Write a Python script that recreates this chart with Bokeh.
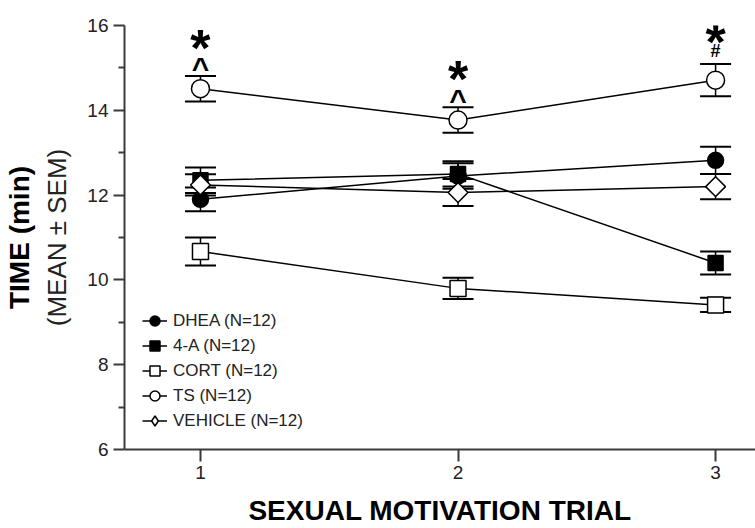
import numpy as np
from bokeh.plotting import figure
from bokeh.models import (ColumnDataSource, Whisker, TeeHead, Legend, LegendItem,
                          FixedTicker, Range1d, LinearAxis)
from bokeh.core.properties import value
from bokeh.embed import file_html
from bokeh.resources import INLINE

# ---------------- data ----------------
trials = [1, 2, 3]
dhea_mean = [11.90, 12.45, 12.82]
dhea_sem = [0.28, 0.30, 0.32]
a4_mean = [12.35, 12.50, 10.40]
a4_sem = [0.30, 0.30, 0.27]
cort_mean = [10.67, 9.80, 9.41]
cort_sem = [0.33, 0.25, 0.17]
ts_mean = [14.51, 13.77, 14.71]
ts_sem = [0.30, 0.30, 0.38]
veh_mean = [12.24, 12.06, 12.20]
veh_sem = [0.25, 0.32, 0.30]

series_labels = ["DHEA (N=12)", "4-A (N=12)", "CORT (N=12)", "TS (N=12)", "VEHICLE (N=12)"]
y_ticks = [6, 8, 10, 12, 14, 16]
y_minor_ticks = [7, 9, 11, 13, 15]
x_ticks = [1, 2, 3]
star_marks = ["*", "*", "*"]
sig_marks = ["^", "^", "#"]

FONT = "Liberation Sans"
AX = "#3a3a3a"

p = figure(width=755, height=528, output_backend="svg", toolbar_location=None,
           x_range=Range1d(0.705, 3.155), y_range=Range1d(6, 16),
           min_border_left=124, min_border_right=0, min_border_top=25,
           min_border_bottom=78)
p.outline_line_color = None
p.xgrid.visible = False
p.ygrid.visible = False

# axes
p.yaxis.ticker = FixedTicker(ticks=y_ticks, minor_ticks=y_minor_ticks)
p.xaxis.ticker = FixedTicker(ticks=x_ticks, minor_ticks=[])
for ax in (p.xaxis, p.yaxis):
    ax.axis_line_color = AX
    ax.axis_line_width = 2
    ax.major_tick_line_color = AX
    ax.major_tick_line_width = 2
    ax.minor_tick_line_color = AX
    ax.minor_tick_line_width = 2
    ax.major_tick_in = 0
    ax.minor_tick_in = 0
    ax.major_label_text_font = FONT
    ax.major_label_text_font_size = "19px"
    ax.major_label_text_color = "#222222"
p.yaxis.major_tick_out = 11
p.yaxis.minor_tick_out = 6
p.yaxis.major_label_standoff = 5
p.xaxis.major_tick_out = 12
p.xaxis.major_label_standoff = 4

p.yaxis.axis_label = "(MEAN \u00b1 SEM)"
p.yaxis.axis_label_text_font = FONT
p.yaxis.axis_label_text_font_size = "26px"
p.yaxis.axis_label_text_font_style = "normal"
p.yaxis.axis_label_text_color = "#222222"
p.yaxis.axis_label_standoff = 12

outer = LinearAxis(ticker=FixedTicker(ticks=[]), axis_line_color=None,
                   major_tick_out=0, major_tick_in=0, minor_tick_out=0, minor_tick_in=0,
                   major_label_standoff=0, major_label_text_font_size="0px",
                   axis_label="TIME (min)", axis_label_text_font=FONT,
                   axis_label_text_font_size="28px", axis_label_text_font_style="bold",
                   axis_label_text_color="black", axis_label_standoff=5)
p.add_layout(outer, "left")

p.xaxis.axis_label = "SEXUAL MOTIVATION TRIAL"
p.xaxis.axis_label_text_font = FONT
p.xaxis.axis_label_text_font_size = "28px"
p.xaxis.axis_label_text_font_style = "bold"
p.xaxis.axis_label_text_color = "black"
p.xaxis.axis_label_standoff = 13

series = [
    (dhea_mean, dhea_sem, "circle", "black", 16, 0.0),
    (a4_mean, a4_sem, "square", "black", 15, 0.0),
    (cort_mean, cort_sem, "square", "white", 16, 0.0),
    (ts_mean, ts_sem, "circle", "white", 18, 0.0),
    (veh_mean, veh_sem, "square", "white", 14, np.pi / 4),
]

line_rs = []
for mean, sem, marker, fill, size, ang in series:
    src = ColumnDataSource(dict(x=trials, y=mean,
                                upper=[m + s for m, s in zip(mean, sem)],
                                lower=[m - s for m, s in zip(mean, sem)]))
    lr = p.line("x", "y", source=src, line_color="black", line_width=1.5)
    line_rs.append(lr)
    w = Whisker(base="x", upper="upper", lower="lower", source=src,
                line_color="black", line_width=1.5,
                upper_head=TeeHead(size=31, line_width=2, line_color="black"),
                lower_head=TeeHead(size=31, line_width=2, line_color="black"))
    p.add_layout(w)

scatter_rs = []
for (mean, sem, marker, fill, size, ang) in series:
    src = ColumnDataSource(dict(x=trials, y=mean))
    sr = p.scatter("x", "y", source=src, marker=marker, size=size, angle=ang,
                   fill_color=fill, line_color="black", line_width=1.5)
    scatter_rs.append(sr)

# legend proxy for the vehicle diamond (legend ignores marker angle)
veh_proxy = p.scatter(x=[np.nan], y=[np.nan], marker="diamond", size=13,
                      fill_color="white", line_color="black", line_width=1.5)
legend_glyphs = scatter_rs[:4] + [veh_proxy]

items = [LegendItem(label=lab, renderers=[lr, sr])
         for lab, lr, sr in zip(series_labels, line_rs, legend_glyphs)]
legend = Legend(items=items, location=(18, 16), glyph_width=25, glyph_height=25,
                label_height=25, spacing=0, padding=0, margin=0, label_standoff=6,
                border_line_color=None, background_fill_alpha=0,
                label_text_font=FONT, label_text_font_size="17px",
                label_text_color="#222222")
p.add_layout(legend)

# significance marks above TS points
ts_top = [m + s for m, s in zip(ts_mean, ts_sem)]
sig_sizes = {"^": "30px", "#": "18px"}
sig_off = {"^": -8, "#": -13}
star_off = {"^": -28, "#": -22}
sig_src = ColumnDataSource(dict(x=trials, y=ts_top, t=sig_marks,
                                fs=[sig_sizes[m] for m in sig_marks],
                                yo=[sig_off[m] for m in sig_marks]))
p.text("x", "y", text="t", source=sig_src, text_font=value(FONT),
       text_font_size="fs", y_offset="yo", text_align="center",
       text_baseline="middle", text_color="black", text_font_style="bold")
star_src = ColumnDataSource(dict(x=trials, y=ts_top, t=star_marks,
                                 yo=[star_off[m] for m in sig_marks]))
p.text("x", "y", text="t", source=star_src, text_font=value(FONT),
       text_font_size="52px", y_offset="yo", text_align="center",
       text_baseline="middle", text_color="black", text_font_style="bold")

open("out.html", "w").write(file_html(p, INLINE))
